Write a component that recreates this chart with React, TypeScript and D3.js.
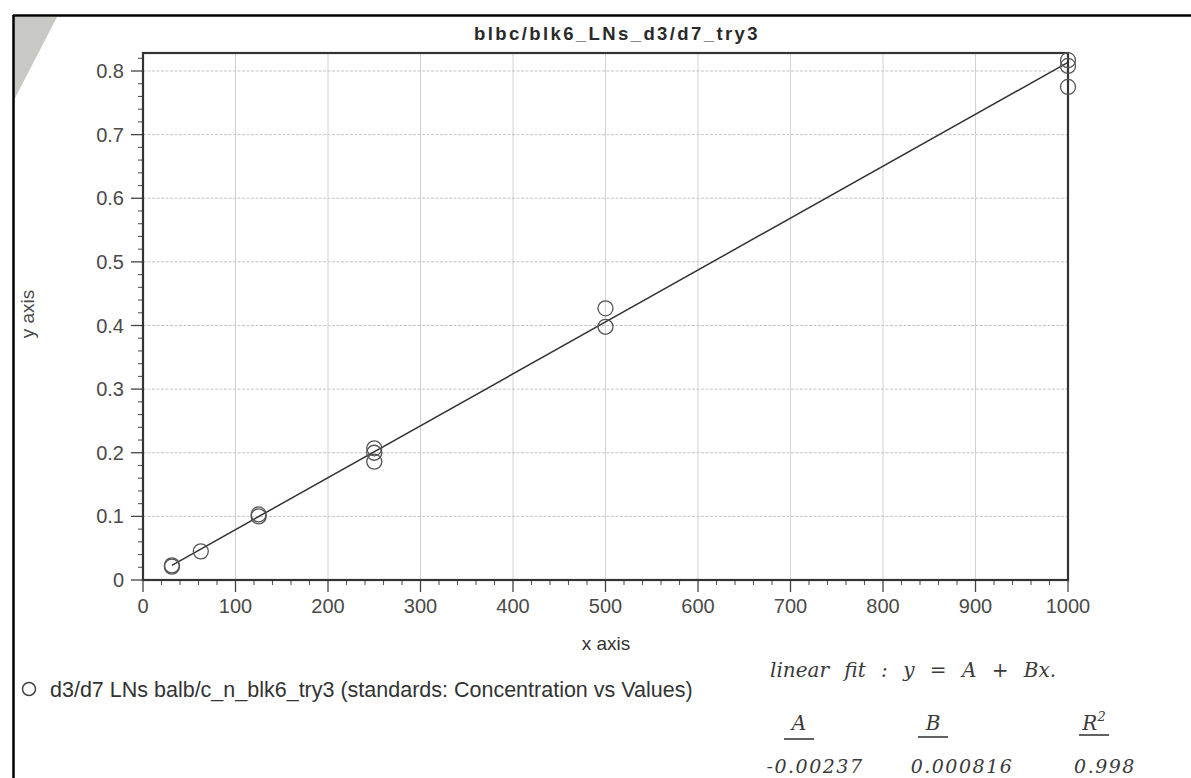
import React from 'react';
import * as d3 from 'd3';

const width = 1191;
const height = 778;

const title = 'blbc/blk6_LNs_d3/d7_try3';
const seriesName = 'd3/d7 LNs balb/c_n_blk6_try3 (standards: Concentration vs Values)';

// standards: concentration (x) vs measured value (y)
const concentration = [31.25, 31.25, 62.5, 125, 125, 250, 250, 250, 500, 500, 1000, 1000, 1000];
const values = [0.021, 0.023, 0.045, 0.1, 0.103, 0.186, 0.2, 0.207, 0.398, 0.427, 0.775, 0.808, 0.817];

// linear fit y = A + Bx (handwritten on the print)
const fitA = -0.00237;
const fitB = 0.000816;
const fitHeaders = ['A', 'B', 'R'];
const fitValues = ['-0.00237', '0.000816', '0.998'];

const xTicks = [0, 100, 200, 300, 400, 500, 600, 700, 800, 900, 1000];
const yTicks = [0, 0.1, 0.2, 0.3, 0.4, 0.5, 0.6, 0.7, 0.8];
const yTickLabels = ['0', '0.1', '0.2', '0.3', '0.4', '0.5', '0.6', '0.7', '0.8'];

const plot = { left: 143, right: 1068, top: 53, bottom: 580 };

const tickFont = 'Liberation Sans, Arial, sans-serif';
const hand = 'DejaVu Serif, serif';

function App() {
  const x = d3.scaleLinear().domain([0, 1000]).range([plot.left, plot.right]);
  const y = d3.scaleLinear().domain([0, 0.8283]).range([plot.bottom, plot.top]);

  const xMinor = d3.range(0, 1001, 20).filter((v) => v % 100 !== 0);
  const yMinor = d3.range(0, 0.83, 0.02).filter((v) => Math.abs(v * 10 - Math.round(v * 10)) > 1e-6);

  const xExtent = d3.extent(concentration) as [number, number];
  const fitLine = d3
    .line<number>()
    .x((d) => x(d))
    .y((d) => y(fitA + fitB * d));

  const headerX = [799, 933, 1094];
  const valueX = [815, 962, 1105];

  return (
    <svg width={width} height={height} style={{ display: 'block', position: 'absolute', left: 0, top: 0 }}>
      <rect width={width} height={height} fill="#fff" />
      {/* scan edge */}
      <polygon points="14,17 57,17 14,100" fill="#c8c8c4" />
      <line x1={13} y1={15.5} x2={width} y2={15.5} stroke="#000" strokeWidth={2.5} />
      <line x1={13.5} y1={15} x2={13.5} y2={height} stroke="#000" strokeWidth={2.5} />

      <text
        x={617}
        y={39.5}
        textAnchor="middle"
        fontFamily={tickFont}
        fontWeight="bold"
        fontSize={18.5}
        letterSpacing={2.4}
        fill="#2a2a2a"
      >
        {title}
      </text>

      {/* grid */}
      {xTicks.slice(1, -1).map((t) => (
        <line key={'gx' + t} x1={x(t)} x2={x(t)} y1={plot.top} y2={plot.bottom} stroke="#d2d2d2" strokeWidth={1} />
      ))}
      {yTicks.slice(1).map((t) => (
        <line
          key={'gy' + t}
          x1={plot.left}
          x2={plot.right}
          y1={y(t)}
          y2={y(t)}
          stroke="#c4c4c4"
          strokeWidth={1}
          strokeDasharray="3,1.5"
        />
      ))}

      {/* ticks */}
      {xTicks.map((t) => (
        <line key={'tx' + t} x1={x(t)} x2={x(t)} y1={plot.bottom} y2={plot.bottom + 12} stroke="#444" strokeWidth={1.3} />
      ))}
      {xMinor.map((t) => (
        <line key={'mx' + t} x1={x(t)} x2={x(t)} y1={plot.bottom} y2={plot.bottom + 5} stroke="#555" strokeWidth={1.1} />
      ))}
      {yTicks.map((t) => (
        <line key={'ty' + t} x1={plot.left - 12} x2={plot.left} y1={y(t)} y2={y(t)} stroke="#444" strokeWidth={1.3} />
      ))}
      {yMinor.map((t) => (
        <line key={'my' + t} x1={plot.left - 5} x2={plot.left} y1={y(t)} y2={y(t)} stroke="#555" strokeWidth={1.1} />
      ))}

      {/* frame */}
      <rect
        x={plot.left}
        y={plot.top}
        width={plot.right - plot.left}
        height={plot.bottom - plot.top}
        fill="none"
        stroke="#333"
        strokeWidth={2.2}
      />

      {/* tick labels */}
      {xTicks.map((t) => (
        <text key={'lx' + t} x={x(t)} y={613} textAnchor="middle" fontFamily={tickFont} fontSize={20} fill="#4a4a4a">
          {t}
        </text>
      ))}
      {yTicks.map((t, i) => (
        <text
          key={'ly' + t}
          x={124}
          y={y(t)}
          dy="0.35em"
          textAnchor="end"
          fontFamily={tickFont}
          fontSize={20}
          fill="#4a4a4a"
        >
          {yTickLabels[i]}
        </text>
      ))}

      <text x={606} y={650} textAnchor="middle" fontFamily={tickFont} fontSize={19} fill="#333">
        x axis
      </text>
      <text
        transform="translate(34,314) rotate(-90)"
        textAnchor="middle"
        fontFamily={tickFont}
        fontSize={19}
        fill="#4a4a4a"
      >
        y axis
      </text>

      {/* fit line */}
      <path d={fitLine(xExtent) || ''} fill="none" stroke="#333" strokeWidth={1.5} />

      {/* points */}
      {concentration.map((c, i) => (
        <circle key={'p' + i} cx={x(c)} cy={y(values[i])} r={7.5} fill="none" stroke="#555" strokeWidth={1.3} />
      ))}

      {/* legend */}
      <circle cx={29} cy={689} r={6.5} fill="none" stroke="#444" strokeWidth={1.5} />
      <text x={50} y={697} fontFamily={tickFont} fontSize={21.5} fill="#333">
        {seriesName}
      </text>

      {/* handwritten notes */}
      <text
        x={770}
        y={677}
        fontFamily={hand}
        fontStyle="italic"
        fontSize={20}
        wordSpacing={9}
        fill="#3a3a3a"
      >
        linear fit : y = A + Bx.
      </text>
      {fitHeaders.map((h, i) => (
        <g key={'h' + h}>
          <text x={headerX[i]} y={730} textAnchor="middle" fontFamily={hand} fontStyle="italic" fontSize={20} fill="#3a3a3a">
            {h}
            {h === 'R' ? (
              <tspan dy={-9} fontSize={13}>
                2
              </tspan>
            ) : null}
          </text>
          <line
            x1={headerX[i] - 15}
            x2={headerX[i] + 15}
            y1={739 - i * 2}
            y2={739 - i * 2}
            stroke="#3a3a3a"
            strokeWidth={1.6}
          />
        </g>
      ))}
      {fitValues.map((v, i) => (
        <text
          key={'v' + i}
          x={valueX[i]}
          y={773}
          textAnchor="middle"
          fontFamily={hand}
          fontStyle="italic"
          fontSize={19}
          letterSpacing={1.5}
          fill="#3a3a3a"
        >
          {v}
        </text>
      ))}
    </svg>
  );
}

export default App;
